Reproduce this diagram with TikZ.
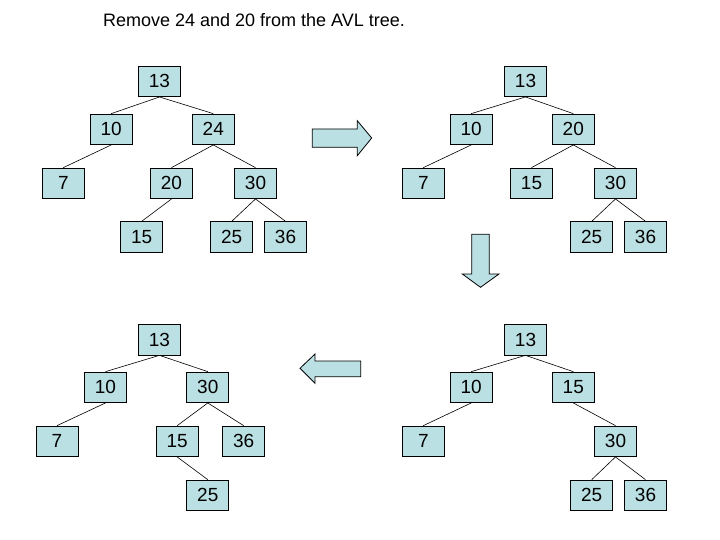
\documentclass[tikz,border=0pt]{standalone}
\usepackage{fontspec}
\setmainfont{Liberation Sans}
\definecolor{boxfill}{HTML}{BBE0E3}
\begin{document}
\begin{tikzpicture}[x=1pt,y=-1pt,
  key/.style={draw=black,line width=0.8pt,fill=boxfill,minimum width=42pt,minimum height=30.5pt,inner sep=0pt,font=\fontsize{19}{22.8}\selectfont},
  edge/.style={draw=black,line width=0.6pt},
  bigarrow/.style={draw=black,line width=0.8pt,fill=boxfill,line join=miter}]
\useasboundingbox (0,0) rectangle (720,540);
\node[anchor=base,font=\fontsize{18}{21.6}\selectfont] (title) at (254,26.6) {Remove 24 and 20 from the AVL tree.};
% tree A (top left)
\node[key] (a13) at (159.5,81.3) {13};
\node[key] (a10) at (111.2,129.3) {10};
\node[key] (a24) at (213.3,129.3) {24};
\node[key] (a7) at (63.3,183.3) {7};
\node[key] (a20) at (171.5,183.3) {20};
\node[key] (a30) at (255.5,183.3) {30};
\node[key] (a15) at (141.7,237) {15};
\node[key] (a25) at (231.7,237) {25};
\node[key] (a36) at (285.5,237) {36};
\draw[edge] (a13.south) -- (a10.north);
\draw[edge] (a13.south) -- (a24.north);
\draw[edge] (a10.south) -- (a7.north);
\draw[edge] (a24.south) -- (a20.north);
\draw[edge] (a24.south) -- (a30.north);
\draw[edge] (a20.south) -- (a15.north);
\draw[edge] (a30.south) -- (a25.north);
\draw[edge] (a30.south) -- (a36.north);
% tree B (top right)
\node[key] (b13) at (525.5,81.3) {13};
\node[key] (b10) at (471.2,129.3) {10};
\node[key] (b20) at (573.3,129.3) {20};
\node[key] (b7) at (423.3,183.3) {7};
\node[key] (b15) at (531.5,183.3) {15};
\node[key] (b30) at (615.5,183.3) {30};
\node[key] (b25) at (591.7,237) {25};
\node[key] (b36) at (645.5,237) {36};
\draw[edge] (b13.south) -- (b10.north);
\draw[edge] (b13.south) -- (b20.north);
\draw[edge] (b10.south) -- (b7.north);
\draw[edge] (b20.south) -- (b15.north);
\draw[edge] (b20.south) -- (b30.north);
\draw[edge] (b30.south) -- (b25.north);
\draw[edge] (b30.south) -- (b36.north);
% tree C (bottom right)
\node[key] (c13) at (525.5,339.7) {13};
\node[key] (c10) at (471.2,387.3) {10};
\node[key] (c15) at (573.3,387.3) {15};
\node[key] (c7) at (423.3,441.3) {7};
\node[key] (c30) at (615.5,441.3) {30};
\node[key] (c25) at (591.7,495.3) {25};
\node[key] (c36) at (645.5,495.3) {36};
\draw[edge] (c13.south) -- (c10.north);
\draw[edge] (c13.south) -- (c15.north);
\draw[edge] (c10.south) -- (c7.north);
\draw[edge] (c15.south) -- (c30.north);
\draw[edge] (c30.south) -- (c25.north);
\draw[edge] (c30.south) -- (c36.north);
% tree D (bottom left)
\node[key] (d13) at (159.5,339.7) {13};
\node[key] (d10) at (105.5,387.3) {10};
\node[key] (d30) at (207.8,387.3) {30};
\node[key] (d7) at (57,441.3) {7};
\node[key] (d15) at (177.2,441.3) {15};
\node[key] (d36) at (243.7,441.3) {36};
\node[key] (d25) at (207.8,495.3) {25};
\draw[edge] (d13.south) -- (d10.north);
\draw[edge] (d13.south) -- (d30.north);
\draw[edge] (d10.south) -- (d7.north);
\draw[edge] (d30.south) -- (d15.north);
\draw[edge] (d30.south) -- (d36.north);
\draw[edge] (d15.south) -- (d25.north);
% block arrows
\draw[bigarrow] (312.3,129) -- (357.3,129) -- (357.3,120.7) -- (371.7,138) -- (357.3,155.7) -- (357.3,147.3) -- (312.3,147.3) -- cycle;
\draw[bigarrow] (471.7,234.3) -- (489.3,234.3) -- (489.3,274) -- (499,274) -- (480.5,287.3) -- (462.3,274) -- (471.7,274) -- cycle;
\draw[bigarrow] (360.7,361) -- (315,361) -- (315,354) -- (300,368.3) -- (315,383.3) -- (315,376.7) -- (360.7,376.7) -- cycle;
\end{tikzpicture}
\end{document}
